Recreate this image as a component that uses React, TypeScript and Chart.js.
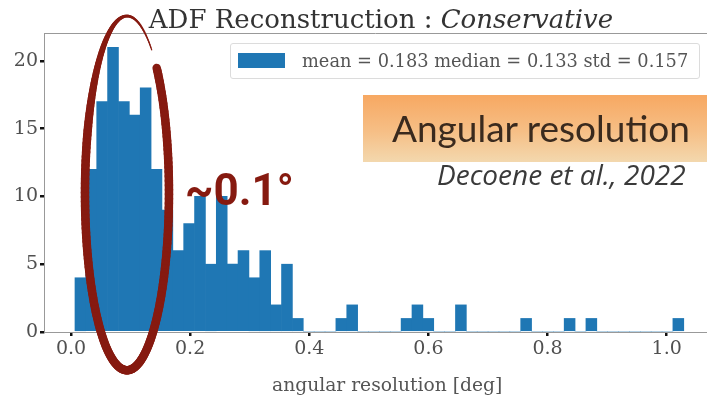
import React, { useEffect, useRef } from "react";
import { Chart, registerables } from "chart.js";

Chart.register(...registerables);

// ---- data ----
const binStart = 0.0067;
const binWidth = 0.01825;
const counts = [
  4, 12, 17, 21, 17, 16, 18, 12, 9, 6, 8, 10, 5, 10, 5, 6, 4, 6, 2, 5, 1,
  0, 0, 0, 1, 2, 0, 0, 0, 0, 1, 2, 1, 0, 0, 2, 0, 0, 0, 0, 0, 1, 0, 0, 0, 1,
  0, 1, 0, 0, 0, 0, 0, 0, 0, 1,
];
const xTicks = [0, 0.2, 0.4, 0.6, 0.8, 1.0];
const yTicks = [0, 5, 10, 15, 20];
const xMin = -0.0453;
const xMax = 1.0677;
const yMax = 22.05;

const titleMain = "ADF Reconstruction : ";
const titleItalic = "Conservative";
const legendLabel = "mean = 0.183 median = 0.133 std = 0.157";
const xTitle = "angular resolution [deg]";
const boxText = "Angular resolution";
const citeText = "Decoene et al., 2022";
const noteText = "~0.1°";

// ellipse annotation in data units
const ellCx = 0.094;
const ellCy = 10.24;
const ellRx = 0.0705;
const ellRy = 13.06;

const BLUE = "#1f77b4";
const RED = "#861a10";
const SERIF = "'DejaVu Serif', serif";

const framePlugin = {
  id: "frameAndEllipse",
  afterDraw(chart: any) {
    const { ctx, chartArea, scales } = chart;
    ctx.save();
    ctx.strokeStyle = "#999";
    ctx.lineWidth = 1;
    ctx.beginPath();
    ctx.moveTo(chartArea.left, chartArea.top + 0.5);
    ctx.lineTo(chartArea.right, chartArea.top + 0.5);
    ctx.stroke();

    const cx = scales.x.getPixelForValue(ellCx);
    const cy = scales.y.getPixelForValue(ellCy);
    const rx = Math.abs(scales.x.getPixelForValue(ellCx + ellRx) - cx);
    const ry = Math.abs(scales.y.getPixelForValue(ellCy + ellRy) - cy);
    ctx.strokeStyle = RED;
    ctx.lineCap = "round";
    const t0 = -45;
    const t1 = 306;
    const steps = 240;
    for (let i = 0; i < steps; i++) {
      const a = t0 + ((t1 - t0) * i) / steps;
      const b = t0 + ((t1 - t0) * (i + 1)) / steps;
      let w = 8.5;
      if (a > 200 && a <= 265) w = 8.5 - ((a - 200) / 65) * 5.5;
      else if (a > 265) w = 3 - ((a - 265) / 41) * 1.8;
      ctx.lineWidth = w;
      const ra = (a * Math.PI) / 180;
      const rb = (b * Math.PI) / 180;
      ctx.beginPath();
      ctx.moveTo(cx + rx * Math.cos(ra), cy + ry * Math.sin(ra));
      ctx.lineTo(cx + rx * Math.cos(rb), cy + ry * Math.sin(rb));
      ctx.stroke();
    }
    ctx.restore();
  },
};

export default function App() {
  const ref = useRef<HTMLCanvasElement | null>(null);

  useEffect(() => {
    document.body.style.margin = "0";
    const canvas = ref.current;
    if (!canvas) return;
    const data = counts.map((c, i) => ({ x: binStart + (i + 0.5) * binWidth, y: c }));
    const tickFont = { family: SERIF, size: 19 };
    const chart = new Chart(canvas, {
      type: "bar",
      data: {
        datasets: [
          {
            label: legendLabel,
            data,
            backgroundColor: BLUE,
            borderWidth: 0,
            barPercentage: 1,
            categoryPercentage: 1,
          } as any,
        ],
      },
      options: {
        animation: false,
        responsive: false,
        maintainAspectRatio: false,
        layout: { padding: { top: 33, left: 0, right: 0, bottom: 0 } },
        plugins: { legend: { display: false }, tooltip: { enabled: false } },
        scales: {
          x: {
            type: "linear",
            min: xMin,
            max: xMax,
            offset: false,
            afterFit: (s: any) => {
              s.height = 66;
            },
            afterBuildTicks: (s: any) => {
              s.ticks = xTicks.map((v) => ({ value: v }));
            },
            ticks: {
              callback: (v: any) => Number(v).toFixed(1),
              font: tickFont,
              color: "#505050",
              padding: 2,
              maxRotation: 0,
              autoSkip: false,
            },
            grid: {
              display: true,
              offset: false,
              drawOnChartArea: false,
              drawTicks: true,
              tickLength: 4,
              color: "#111",
              lineWidth: 2.5,
            },
            border: { display: true, color: "#999", width: 1 },
            title: { display: false, text: xTitle },
          } as any,
          y: {
            min: 0,
            max: yMax,
            afterFit: (s: any) => {
              s.width = 44;
            },
            afterBuildTicks: (s: any) => {
              s.ticks = yTicks.map((v) => ({ value: v }));
            },
            ticks: { font: tickFont, color: "#505050", padding: 2 },
            grid: {
              display: true,
              drawOnChartArea: false,
              drawTicks: true,
              tickLength: 4,
              color: "#111",
              lineWidth: 2.5,
            },
            border: { display: true, color: "#999", width: 1 },
          } as any,
        },
      },
      plugins: [framePlugin],
    });
    return () => chart.destroy();
  }, []);

  const abs = (s: React.CSSProperties): React.CSSProperties => ({
    position: "absolute",
    whiteSpace: "nowrap",
    lineHeight: 1,
    margin: 0,
    ...s,
  });

  return (
    <div
      style={{
        position: "relative",
        width: 707,
        height: 398,
        overflow: "hidden",
        background: "#fff",
      }}
    >
      <canvas ref={ref} width={707} height={398} style={{ width: 707, height: 398, display: "block" }} />
      <div
        style={abs({
          left: 0,
          width: 762,
          top: 6,
          textAlign: "center",
          fontFamily: SERIF,
          fontSize: 26,
          color: "#333",
        })}
      >
        {titleMain}
        <span style={{ fontStyle: "italic" }}>{titleItalic}</span>
      </div>
      <div
        style={abs({
          left: 272,
          top: 376,
          fontFamily: SERIF,
          fontSize: 18.7,
          color: "#555",
        })}
      >
        {xTitle}
      </div>
      <div
        style={abs({
          left: 230,
          top: 43,
          width: 470,
          height: 36,
          boxSizing: "border-box",
          border: "1px solid #dcdcdc",
          borderRadius: 3,
          background: "rgba(255,255,255,0.85)",
        })}
      />
      <div style={abs({ left: 238, top: 53, width: 47, height: 15, background: BLUE })} />
      <div style={abs({ left: 302, top: 52, fontFamily: SERIF, fontSize: 17.8, color: "#555" })}>
        {legendLabel}
      </div>
      <div
        style={abs({
          left: 363,
          top: 95,
          width: 344,
          height: 67,
          background: "linear-gradient(to bottom, #f7a862 0%, #f6bf86 55%, #f3d8ae 100%)",
        })}
      />
      <div style={abs({ left: 392, top: 109, fontFamily: "Lato, sans-serif", fontSize: 37, color: "#3a2a1e" })}>
        {boxText}
      </div>
      <div
        style={abs({
          left: 437,
          top: 160,
          fontFamily: "'Open Sans', sans-serif",
          fontStyle: "italic",
          fontSize: 28,
          color: "#3a3a3a",
        })}
      >
        {citeText}
      </div>
      <div
        style={abs({
          left: 185,
          top: 168,
          fontFamily: "Roboto, sans-serif",
          fontWeight: 700,
          fontSize: 44,
          color: RED,
        })}
      >
        {noteText}
      </div>
    </div>
  );
}
